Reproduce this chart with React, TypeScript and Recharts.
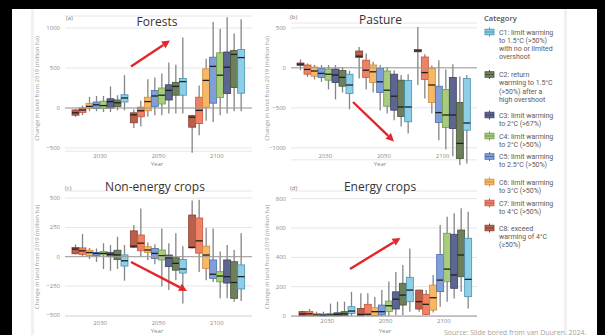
import { ComposedChart, Bar, XAxis, YAxis, CartesianGrid, ReferenceLine } from "recharts"

const font = "'Open Sans', 'Noto Sans', sans-serif"
const legendFont = "Roboto, 'Open Sans', sans-serif"

const years = ["2030", "2050", "2100"]

const categoryFills = ["#8ccfe6", "#6e7f5c", "#5d6690", "#a6cc7c", "#7f9fda", "#f7b866", "#ef8264", "#b8604c"]
const categoryStrokes = ["#4a90b0", "#46553a", "#3c4468", "#6f9a4c", "#4d6eaa", "#cf8a3a", "#c4553c", "#8a3e30"]

const categoryLabels = [
  ["C1: limit warming", "to 1.5°C (>50%)", "with no or limited", "overshoot"],
  ["C2: return", "warming to 1.5°C", "(>50%) after a", "high overshoot"],
  ["C3: limit warming", "to 2°C (>67%)"],
  ["C4: limit warming", "to 2°C (>50%)"],
  ["C5: limit warming", "to 2.5°C (>50%)"],
  ["C6: limit warming", "to 3°C (>50%)"],
  ["C7: limit warming", "to 4°C (>50%)"],
  ["C8: exceed", "warming of 4°C", "(≥50%)"],
]

// every row: [min, q1, median, q3, max], listed C1 … C8
const forests2030 = [
  [-30, 75, 125, 165, 410],
  [-30, 20, 65, 100, 160],
  [-50, 0, 80, 115, 270],
  [-50, -5, 30, 85, 150],
  [-40, -5, 40, 75, 150],
  [-40, -5, 20, 55, 140],
  [-90, -55, -25, 0, 30],
  [-110, -90, -60, -25, -10],
]
const forests2050 = [
  [-70, 160, 330, 370, 880],
  [-70, 160, 270, 320, 540],
  [-70, 100, 220, 290, 570],
  [-90, 50, 160, 250, 430],
  [-90, 20, 150, 220, 380],
  [-110, -35, 80, 135, 360],
  [-230, -110, -35, 10, 90],
  [-250, -185, -85, -60, -20],
]
const forests2100 = [
  [-40, 185, 630, 730, 1110],
  [-40, 255, 670, 720, 930],
  [-70, 180, 510, 700, 1135],
  [-90, 130, 410, 690, 990],
  [-175, 60, 520, 635, 1075],
  [-160, 10, 345, 490, 615],
  [-340, -195, -30, 135, 280],
  [-560, -240, -115, -95, -85],
]

const pasture2030 = [
  [-520, -320, -215, -80, -35],
  [-310, -230, -120, -35, 10],
  [-395, -185, -90, -15, 35],
  [-270, -155, -80, -15, 35],
  [-175, -120, -70, -10, 35],
  [-145, -105, -40, 10, 35],
  [-115, -80, -20, 35, 55],
  [-30, 30, 45, 60, 105],
]
const pasture2050 = [
  [-820, -675, -490, -160, -80],
  [-735, -610, -490, -155, -90],
  [-655, -530, -355, -80, -30],
  [-570, -480, -280, -40, 10],
  [-535, -310, -175, -10, 35],
  [-310, -185, -50, 35, 75],
  [-270, -120, -30, 95, 180],
  [-135, 130, 145, 210, 260],
]
const pasture2100 = [
  [-1195, -780, -690, -135, -90],
  [-1215, -1135, -945, -435, -110],
  [-1105, -760, -590, -120, 45],
  [-1020, -745, -590, -270, -20],
  [-905, -685, -560, -230, 95],
  [-570, -435, -215, -10, 30],
  [-385, -145, -60, 135, 170],
  [-215, 200, 212, 230, 510],
]

const crops2030 = [
  [-205, -80, -35, 15, 100],
  [-105, -25, 15, 55, 170],
  [-120, 0, 20, 37, 100],
  [-105, 15, 28, 43, 115],
  [-45, 10, 28, 37, 70],
  [-20, 10, 35, 55, 75],
  [0, 20, 50, 75, 195],
  [20, 25, 65, 78, 105],
]
const crops2050 = [
  [-400, -140, -105, -23, 90],
  [-200, -115, -57, -9, 200],
  [-285, -85, -10, 14, 115],
  [-255, -28, 8, 57, 240],
  [-65, -15, 28, 70, 105],
  [-30, 37, 57, 85, 120],
  [0, 50, 115, 185, 410],
  [75, 80, 90, 220, 270],
]
const crops2100 = [
  [-378, -275, -170, -70, 200],
  [-385, -355, -220, -43, 57],
  [-355, -225, -170, -28, 100],
  [-355, -215, -165, -128, 45],
  [-215, -185, -150, -28, 240],
  [-200, -100, 14, 90, 245],
  [-130, 30, 135, 330, 485],
  [70, 75, 80, 355, 480],
]

const energy2030 = [
  [0, 18, 34, 64, 165],
  [0, 3, 15, 30, 98],
  [0, 2, 12, 22, 98],
  [0, 2, 8, 18, 85],
  [0, 1, 6, 14, 30],
  [0, 2, 8, 18, 30],
  [0, 2, 15, 30, 48],
  [0, 2, 14, 30, 36],
]
const energy2050 = [
  [30, 98, 177, 264, 460],
  [5, 75, 143, 223, 348],
  [5, 48, 115, 165, 300],
  [0, 30, 70, 102, 235],
  [0, 7, 30, 75, 178],
  [0, 2, 30, 57, 130],
  [0, 7, 12, 80, 155],
  [0, 2, 11, 52, 155],
]
const energy2100 = [
  [52, 132, 250, 530, 711],
  [166, 268, 416, 586, 734],
  [120, 189, 280, 557, 700],
  [98, 234, 320, 564, 677],
  [64, 166, 245, 420, 620],
  [25, 41, 125, 211, 280],
  [5, 11, 80, 148, 178],
  [30, 48, 98, 177, 180],
]

const forestsTicks = [-500, 0, 500, 1000]
const pastureTicks = [-1000, -500, 0, 500]
const cropsTicks = [-500, -250, 0, 250, 500]
const energyTicks = [0, 200, 400, 600, 800]

// boxes are drawn C8 on the left through C1 on the right
const drawOrder = [7, 6, 5, 4, 3, 2, 1, 0]

const fmt = (v: number) => (v < 0 ? `\u2212${Math.abs(v)}` : `${v}`)

// box body comes from the bar range [q1, q3]; whiskers and median use the same px-per-unit
function BoxShape(props: any) {
  const { x, y, width, height, payload, cat } = props
  const [lo, q1, med, q3, hi] = payload.stats[cat]
  const k = height / (q3 - q1)
  const py = (v: number) => y + (q3 - v) * k
  const cx = x + width / 2
  return (
    <g>
      <line x1={cx} x2={cx} y1={py(hi)} y2={py(lo)} stroke="#858585" strokeWidth={1.3} />
      <rect x={x} y={y} width={width} height={height} fill={categoryFills[cat]} stroke={categoryStrokes[cat]} strokeWidth={0.8} />
      <line x1={x} x2={x + width} y1={py(med)} y2={py(med)} stroke="#1f1f1f" strokeWidth={1.3} />
    </g>
  )
}

type PanelProps = {
  rows: number[][][]
  left: number
  right: number
  top: number
  bottom: number
  domain: [number, number]
  ticks: number[]
  padL: number
  padR: number
  labelGap: number
}

function Panel({ rows, left, right, top, bottom, domain, ticks, padL, padR, labelGap }: PanelProps) {
  const axisW = 50
  const axisH = 20
  const data = years.map((year, i) => ({ year, stats: rows[i] }))
  return (
    <div style={{ position: "absolute", left: left - axisW, top: top - 5 }}>
      <ComposedChart
        width={right - left + axisW + 2}
        height={bottom - top + 5 + axisH}
        data={data}
        margin={{ top: 5, right: 2, bottom: 0, left: 0 }}
        barGap={0}
        barSize={7}
      >
        <CartesianGrid vertical={false} stroke="#e6e6e6" />
        <XAxis
          dataKey="year"
          axisLine={false}
          tickLine={false}
          tickSize={0}
          tickMargin={labelGap}
          interval={0}
          height={axisH}
          padding={{ left: padL, right: padR }}
          tick={{ fontSize: 6, fill: "#8a8a8a", fontFamily: font }}
        />
        <YAxis
          type="number"
          domain={domain}
          ticks={ticks}
          width={axisW}
          axisLine={false}
          tickLine={false}
          tickSize={0}
          tickMargin={5}
          tickFormatter={fmt}
          tick={{ fontSize: 6, fill: "#8a8a8a", fontFamily: font }}
        />
        <ReferenceLine y={0} stroke="#9c9c9c" strokeWidth={1} />
        {drawOrder.map((i) => (
          <Bar
            key={i}
            dataKey={(d: any) => [d.stats[i][1], d.stats[i][3]]}
            isAnimationActive={false}
            shape={(p: any) => <BoxShape {...p} cat={i} />}
          />
        ))}
      </ComposedChart>
    </div>
  )
}

function Arrow({ x1, y1, x2, y2 }: { x1: number; y1: number; x2: number; y2: number }) {
  const a = Math.atan2(y2 - y1, x2 - x1)
  const len = 8
  const half = 4
  const bx = x2 - len * Math.cos(a)
  const by = y2 - len * Math.sin(a)
  const nx = -Math.sin(a) * half
  const ny = Math.cos(a) * half
  return (
    <g>
      <line x1={x1} y1={y1} x2={bx} y2={by} stroke="#e3262a" strokeWidth={2.4} />
      <polygon points={`${x2},${y2} ${bx + nx},${by + ny} ${bx - nx},${by - ny}`} fill="#e3262a" />
    </g>
  )
}

const yTitle = "Change in land from 2019 (million ha)"
const legendTops = [32, 74.5, 115, 136, 156.5, 182, 203, 228]
const legendLine = 8.3

function Overlay() {
  const title = { fontFamily: font, fontSize: 12, fill: "#333", textAnchor: "middle" as const }
  const small = { fontFamily: font, fontSize: 6, fill: "#777" }
  const yLab = { fontFamily: font, fontSize: 6, fill: "#999", textAnchor: "middle" as const }
  return (
    <svg width={605} height={335} style={{ position: "absolute", left: 0, top: 0, pointerEvents: "none" }}>
      <text x={157} y={25.5} {...title}>Forests</text>
      <text x={380.5} y={23.5} {...title}>Pasture</text>
      <text x={155} y={191} {...title}>Non-energy crops</text>
      <text x={380} y={191} {...title}>Energy crops</text>

      <text x={66} y={20} {...small}>(a)</text>
      <text x={290} y={19} {...small}>(b)</text>
      <text x={65} y={190} {...small}>(c)</text>
      <text x={290} y={190} {...small}>(d)</text>

      <text x={157} y={166} {...yLab} fill="#888">Year</text>
      <text x={380} y={166} {...yLab} fill="#888">Year</text>
      <text x={157} y={333} {...yLab} fill="#888">Year</text>
      <text x={385} y={333} {...yLab} fill="#888">Year</text>

      <text transform="translate(39,88.5) rotate(-90)" {...yLab}>{yTitle}</text>
      <text transform="translate(269,88.5) rotate(-90)" {...yLab}>{yTitle}</text>
      <text transform="translate(39,257) rotate(-90)" {...yLab}>{yTitle}</text>
      <text transform="translate(269,257) rotate(-90)" {...yLab}>{yTitle}</text>

      <Arrow x1={131} y1={66.5} x2={170} y2={40.5} />
      <Arrow x1={353} y1={102} x2={394} y2={141.5} />
      <Arrow x1={131} y1={262} x2={187} y2={291} />
      <Arrow x1={350} y1={269} x2={400.5} y2={238} />

      <text x={484} y={20.5} fontFamily={font} fontSize={7.6} fontWeight={600} fill="#555">Category</text>
      {categoryLabels.map((lines, i) => {
        const c = legendTops[i]
        return (
          <g key={i}>
            <line x1={489.5} x2={489.5} y1={c - 4.5} y2={c + 4.5} stroke={categoryStrokes[i]} strokeWidth={1} />
            <rect x={485} y={c - 2.8} width={9} height={5.6} fill={categoryFills[i]} stroke={categoryStrokes[i]} strokeWidth={0.8} />
            <line x1={485} x2={494} y1={c} y2={c} stroke={categoryStrokes[i]} strokeWidth={1} />
            {lines.map((t, j) => (
              <text key={j} x={499} y={c + 2.5 + j * legendLine} fontFamily={legendFont} fontSize={7} fill="#5a5a5a">
                {t}
              </text>
            ))}
          </g>
        )
      })}

      <text x={444} y={334.5} fontFamily={font} fontSize={7} fill="#a3a3a3">Source: Slide bored from van Duuren, 2024.</text>

      <rect x={0} y={0} width={605} height={9} fill="#000" />
      <rect x={0} y={0} width={12} height={335} fill="#000" />
      <rect x={597} y={0} width={8} height={335} fill="#000" />
    </svg>
  )
}

export default function App() {
  return (
    <div style={{ position: "absolute", left: 0, top: 0, width: 605, height: 335, background: "#fff", overflow: "hidden" }}>
      <div style={{ position: "absolute", left: 31, top: 0, width: 3, height: 335, background: "#f1f1f1" }} />
      <div style={{ position: "absolute", left: 564, top: 0, width: 3, height: 335, background: "#f1f1f1" }} />
      <Panel rows={[forests2030, forests2050, forests2100]} left={65} right={252} top={15.7} bottom={150.9} domain={[-540, 1150]} ticks={forestsTicks} padL={6} padR={6} labelGap={3} />
      <Panel rows={[pasture2030, pasture2050, pasture2100]} left={291} right={477} top={22.9} bottom={159.7} domain={[-1150, 560]} ticks={pastureTicks} padL={5} padR={5} labelGap={-6} />
      <Panel rows={[crops2030, crops2050, crops2100]} left={65} right={252} top={191} bottom={316.5} domain={[-510, 560]} ticks={cropsTicks} padL={6} padR={6} labelGap={4} />
      <Panel rows={[energy2030, energy2050, energy2100]} left={291} right={477} top={191} bottom={316.5} domain={[-3, 852]} ticks={energyTicks} padL={7} padR={4} labelGap={2.5} />
      <Overlay />
    </div>
  )
}
